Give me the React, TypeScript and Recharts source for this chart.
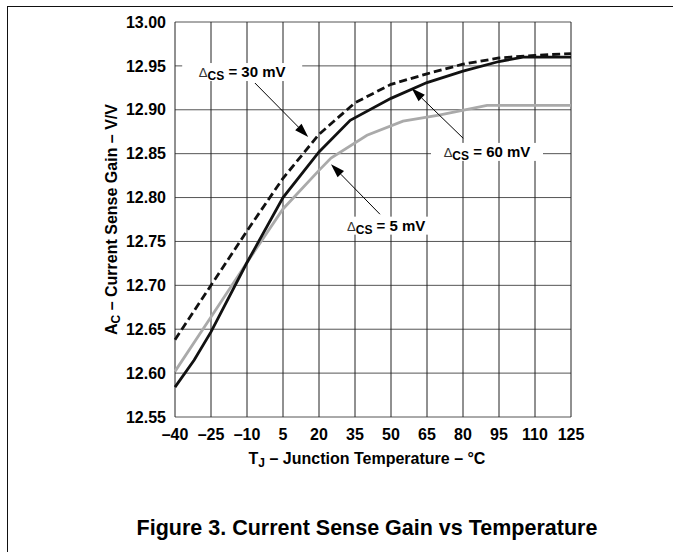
import React from 'react';
import { LineChart, Line, XAxis, YAxis, CartesianGrid, Label, ReferenceLine, ReferenceDot } from 'recharts';

// junction temperature (°C) and gain (V/V)
const temps30 = [-40, -25, -10, 5, 20, 35, 50, 65, 80, 95, 110, 125];
const gain30 = [12.638, 12.7, 12.762, 12.822, 12.872, 12.908, 12.929, 12.941, 12.952, 12.959, 12.962, 12.964];

const temps60 = [-40, -32, -25, -10, 5, 20, 33, 50, 65, 80, 95, 105, 125];
const gain60 = [12.584, 12.615, 12.647, 12.726, 12.8, 12.852, 12.888, 12.913, 12.931, 12.944, 12.955, 12.96, 12.96];

const temps5 = [-40, -25, -10, 5, 20, 25, 40, 55, 70, 90, 125];
const gain5 = [12.602, 12.664, 12.726, 12.787, 12.831, 12.845, 12.871, 12.887, 12.894, 12.905, 12.905];

const xTicks = [-40, -25, -10, 5, 20, 35, 50, 65, 80, 95, 110, 125];
const yTicks = [12.55, 12.6, 12.65, 12.7, 12.75, 12.8, 12.85, 12.9, 12.95, 13.0];

const toPoints = (ts: number[], gs: number[]) => ts.map((t, i) => ({ t, g: gs[i] }));

const FONT = '"Liberation Sans", Arial, sans-serif';

function Arrow(props: any) {
  const { x1, y1, x2, y2 } = props;
  const a = Math.atan2(y2 - y1, x2 - x1);
  const len = 14;
  const hw = 4.5;
  const bx = x2 - len * Math.cos(a);
  const by = y2 - len * Math.sin(a);
  const px = -Math.sin(a) * hw;
  const py = Math.cos(a) * hw;
  return (
    <g>
      <line x1={x1} y1={y1} x2={bx} y2={by} stroke="#000" strokeWidth={1} />
      <polygon points={`${x2},${y2} ${bx + px},${by + py} ${bx - px},${by - py}`} fill="#000" />
    </g>
  );
}

function tag(text: string, boxW: number) {
  return (props: any) => {
    const { cx, cy } = props;
    return (
      <g>
        <rect x={cx - boxW / 2} y={cy - 9} width={boxW} height={18} fill="#fff" />
        <text x={cx} y={cy + 5} textAnchor="middle" fontFamily={FONT} fontSize={15} fontWeight="bold" fill="#000">
          <tspan fontWeight="normal" fontSize={13} fill="#333">Δ</tspan>
          <tspan fontSize={12} dy={3}>CS</tspan>
          <tspan dy={-3}>{` = ${text}`}</tspan>
        </text>
      </g>
    );
  };
}

function YTitle(props: any) {
  const { viewBox } = props;
  const cx = viewBox.x + 17;
  const cy = viewBox.y + viewBox.height / 2;
  return (
    <text transform={`translate(${cx},${cy}) rotate(-90)`} textAnchor="middle" fontFamily={FONT} fontSize={16} fontWeight="bold" fill="#000">
      <tspan>A</tspan>
      <tspan fontSize={12} dy={3}>C</tspan>
      <tspan dy={-3}> – Current Sense Gain – V/V</tspan>
    </text>
  );
}

function XTitle(props: any) {
  const { viewBox } = props;
  const cx = viewBox.x + viewBox.width / 2 - 6;
  return (
    <g fontFamily={FONT} fontWeight="bold" fill="#000">
      <text x={cx} y={viewBox.y + 47} textAnchor="middle" fontSize={16}>
        <tspan>T</tspan>
        <tspan fontSize={12} dy={3}>J</tspan>
        <tspan dy={-3}> – Junction Temperature – °C</tspan>
      </text>
      <text x={cx} y={viewBox.y + 118} textAnchor="middle" fontSize={21.5}>
        Figure 3. Current Sense Gain vs Temperature
      </text>
    </g>
  );
}

export default function App() {
  const tickStyle = { fontFamily: FONT, fontSize: 16, fontWeight: 'bold', fill: '#000' };
  return (
    <div style={{ position: 'absolute', left: 0, top: 0, width: 673, height: 552, background: '#fff' }}>
      <div
        style={{
          position: 'absolute',
          left: 7,
          top: 6,
          right: 0,
          bottom: 0,
          borderTop: '1.5px solid #111',
          borderLeft: '1.5px solid #111',
        }}
      />
      <div style={{ position: 'absolute', left: 0, top: 0 }}>
        <LineChart width={673} height={552} margin={{ top: 22, right: 102, bottom: 105, left: 100 }}>
          <CartesianGrid vertical={false} stroke="#555" strokeWidth={1} />
          <CartesianGrid horizontal={false} stroke="#222" strokeWidth={1} />
          <XAxis
            type="number"
            dataKey="t"
            domain={[-40, 125]}
            ticks={xTicks}
            interval={0}
            height={30}
            axisLine={false}
            tickLine={false}
            tickMargin={6}
            tick={tickStyle}
            tickFormatter={(v: number) => (v < 0 ? `–${Math.abs(v)}` : `${v}`)}
          >
            <Label content={XTitle} />
          </XAxis>
          <YAxis
            type="number"
            domain={[12.55, 13.0]}
            ticks={yTicks}
            interval={0}
            width={75}
            axisLine={false}
            tickLine={false}
            tickMargin={3}
            tick={tickStyle}
            tickFormatter={(v: number) => v.toFixed(2)}
          >
            <Label content={YTitle} />
          </YAxis>
          <Line data={toPoints(temps5, gain5)} dataKey="g" type="linear" stroke="#aaa" strokeWidth={2.8} dot={false} isAnimationActive={false} />
          <Line data={toPoints(temps60, gain60)} dataKey="g" type="linear" stroke="#111" strokeWidth={2.8} dot={false} isAnimationActive={false} />
          <Line data={toPoints(temps30, gain30)} dataKey="g" type="linear" stroke="#111" strokeWidth={2.8} strokeDasharray="8 4" dot={false} isAnimationActive={false} />
          <ReferenceLine segment={[{ x: -6.7, y: 12.9305 }, { x: 15.5, y: 12.869 }]} shape={Arrow} />
          <ReferenceLine segment={[{ x: 80.1, y: 12.8675 }, { x: 58.6, y: 12.9245 }]} shape={Arrow} />
          <ReferenceLine segment={[{ x: 45.4, y: 12.781 }, { x: 25, y: 12.838 }]} shape={Arrow} />
          <ReferenceDot x={-12} y={12.943} r={0} shape={tag('30 mV', 120)} />
          <ReferenceDot x={90} y={12.852} r={0} shape={tag('60 mV', 112)} />
          <ReferenceDot x={48} y={12.768} r={0} shape={tag('5 mV', 100)} />
        </LineChart>
      </div>
    </div>
  );
}
